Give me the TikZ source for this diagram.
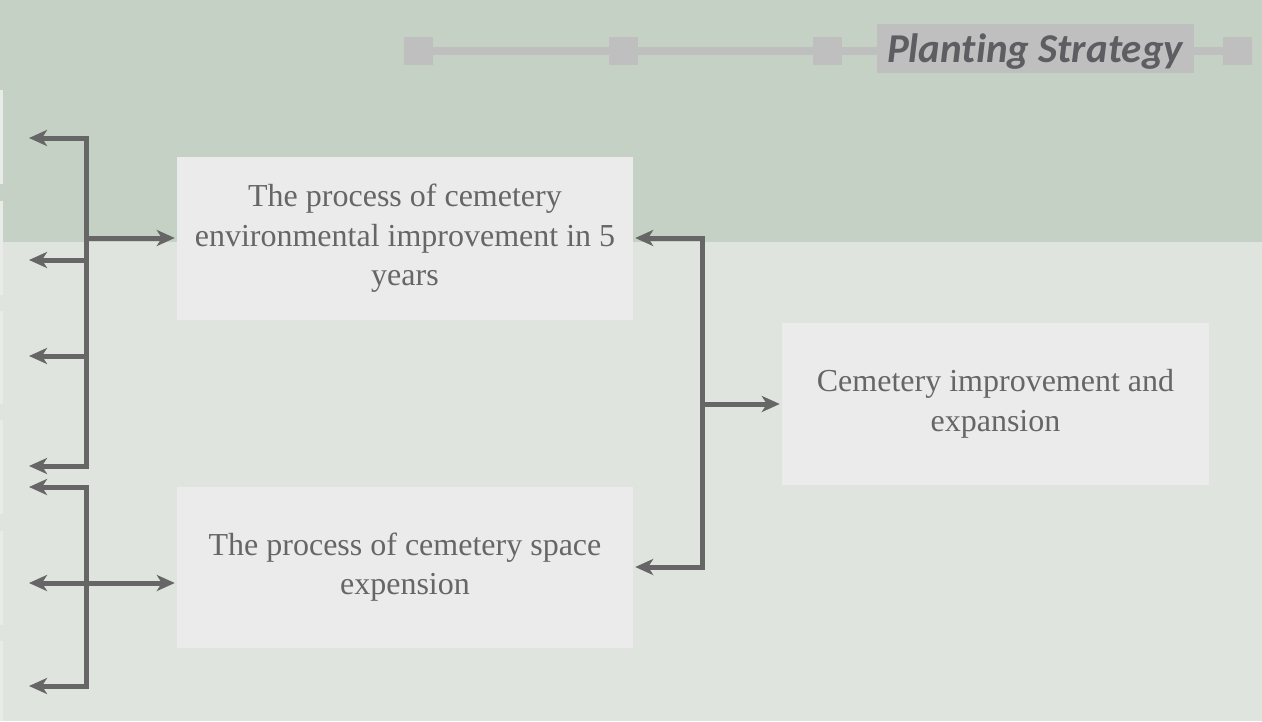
\documentclass[tikz,border=0pt]{standalone}
\usepackage{fontspec}
\setmainfont{Liberation Serif}
\newfontfamily\headfont[Ligatures=NoCommon]{Carlito}
\usetikzlibrary{arrows.meta}
\definecolor{bandtop}{HTML}{C5D1C5}
\definecolor{bandlow}{HTML}{DFE4DF}
\definecolor{boxfill}{HTML}{EBEBEB}
\definecolor{rulegray}{HTML}{BFBFBF}
\definecolor{ink}{HTML}{666666}
\definecolor{headink}{HTML}{5E5E62}
\definecolor{sliver}{HTML}{E8EBE8}
\newcommand{\tip}{Stealth[length=18pt,width=16pt,inset=5pt]}

\begin{document}
\begin{tikzpicture}[x=1pt,y=-1pt,
    stage/.style={fill=boxfill,text=ink,align=center,inner sep=0pt,
                  font=\fontsize{32}{39.5}\selectfont},
    link/.style={draw=ink,line width=5pt,-{\tip}},
    twoway/.style={draw=ink,line width=5pt,{\tip}-{\tip}},
    tick/.style={fill=rulegray,minimum width=29pt,minimum height=28pt,inner sep=0pt}
  ]
            \useasboundingbox (0,0) rectangle (1262,721);
            \fill[bandlow] (0,0) rectangle (1262,721);
            \fill[bandtop] (0,0) rectangle (1262,242);
            % cut-off boxes on the left edge
            \foreach \ya/\yb in {90/184,201/295,311/404,420/514,531/625,641/721}
                \fill[sliver] (0,\ya) rectangle (2.5,\yb);

            % header rule
            \draw[rulegray,line width=8pt] (404,51) -- (1252,51);
            \node[tick] (t1) at (418.5,51) {};
            \node[tick] (t2) at (623,51) {};
            \node[tick] (t3) at (827,51) {};
            \node[tick] (t4) at (1237,51) {};
            \node[fill=rulegray,minimum width=317pt,minimum height=49pt,inner sep=0pt]
                  (title) at (1035,48.5) {};
            \node[text=headink,inner sep=0pt,
                  font=\headfont\bfseries\itshape\fontsize{41}{44}\selectfont]
                  at ([yshift=-3pt]title.center) {Planting Strategy};

            % boxes
            \node[stage,minimum width=456pt,minimum height=163pt] (env) at (405,238.5)
                {The process of cemetery\\environmental improvement in 5\\years};
            \node[stage,minimum width=456pt,minimum height=161pt] (space) at (405,567)
                {The process of cemetery space\\expension};
            \node[stage,minimum width=427pt,minimum height=162pt] (goal) at (995.5,404)
                {Cemetery improvement and\\expansion};

            % upper fan
            \coordinate (u1) at (29,138);
            \coordinate (u2) at (29,260);
            \coordinate (u3) at (29,356);
            \coordinate (u4) at (29,466);
            \coordinate (uj1) at (86,138);
            \coordinate (uj2) at (86,260);
            \coordinate (uj3) at (86,356);
            \coordinate (uj4) at (86,466);
            \coordinate (uo) at (86,238);
            \draw[twoway,line join=miter] (u1) -- (uj1) -- (uj4) -- (u4);
            \draw[link] (uj2) -- (u2);
            \draw[link] (uj3) -- (u3);
            \draw[link,shorten >=2pt] (uo) -- (env.west |- uo);

            % lower fan
            \coordinate (d1) at (29,487);
            \coordinate (d2) at (29,583);
            \coordinate (d3) at (29,686);
            \coordinate (dj1) at (86,487);
            \coordinate (dj3) at (86,686);
            \draw[twoway,line join=miter] (d1) -- (dj1) -- (dj3) -- (d3);
            \draw[twoway,shorten >=2pt] (d2) -- (space.west |- d2);

            % right bracket
            \coordinate (ra) at (702,238);
            \coordinate (rb) at (702,567);
            \coordinate (rc) at (702,404);
            \draw[twoway,line join=miter,shorten <=2pt,shorten >=2pt]
                (env.east |- ra) -- (ra) -- (rb) -- (space.east |- rb);
            \draw[link,shorten >=2pt] (rc) -- (goal.west |- rc);
        \end{tikzpicture}
\end{document}
